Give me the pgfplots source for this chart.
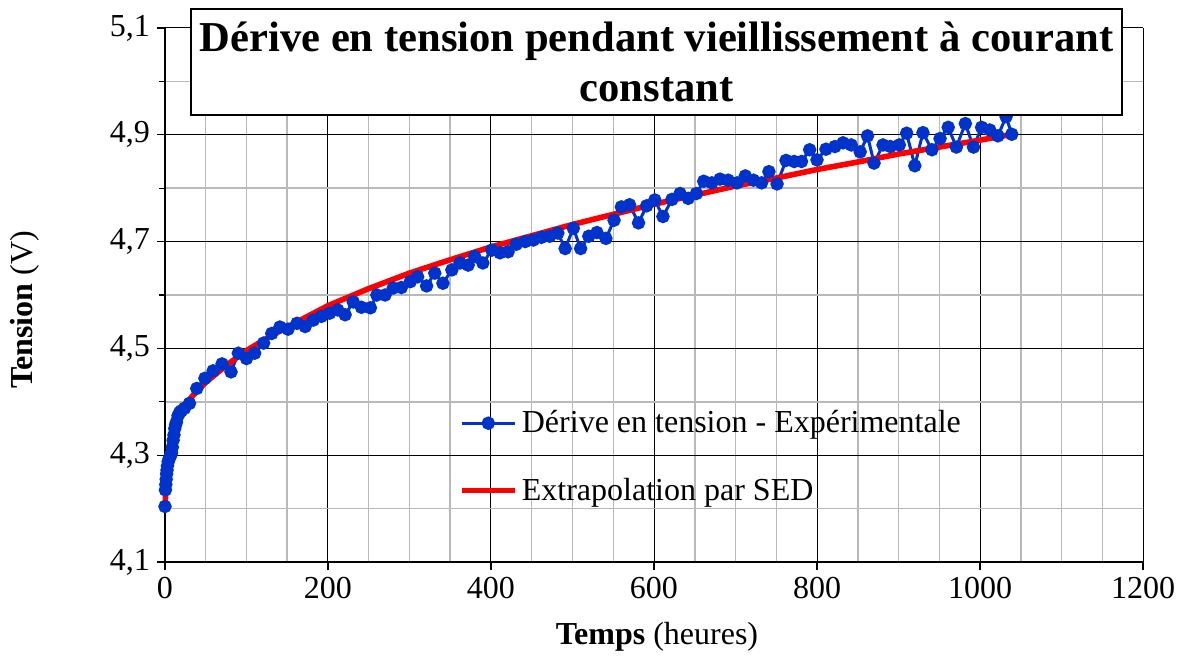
\documentclass[border=0pt]{standalone}
\usepackage{fontspec}
\setmainfont{Liberation Serif}
\usepackage{pgfplots}
\pgfplotsset{compat=1.18}

\definecolor{expblue}{RGB}{0,51,204}
\definecolor{sedred}{RGB}{255,0,0}

\begin{document}
\begin{tikzpicture}
\begin{axis}[
    scale only axis,
    width=489pt, height=267pt,
    xmin=0, xmax=1200, ymin=4.1, ymax=5.1,
    xtick={0,200,...,1200},
    ytick={4.1,4.3,4.5,4.7,4.9,5.1},
    minor x tick num=3,
    minor y tick num=1,
    grid=both,
    major grid style={black, line width=0.5pt},
    minor grid style={gray!55, line width=0.75pt},
    axis x line*=bottom, axis y line*=left,
    axis line style={-, black, line width=0.8pt},
    tick align=outside,
    major tick length=4pt, minor tick length=3pt,
    tick style={black, line width=0.6pt},
    minor x tick style={draw=none},
    clip=false,
    /pgf/number format/assume math mode=true,
    /pgf/number format/1000 sep={},
    yticklabel style={/pgf/number format/.cd, fixed, fixed zerofill, precision=1, use comma},
    tick label style={font=\fontsize{16}{19}\selectfont},
    xlabel={\textbf{Temps} (heures)},
    ylabel={\textbf{Tension} (V)},
    label style={font=\fontsize{16}{19}\selectfont},
    xlabel style={at={(axis description cs:0.503,-0.14)}, anchor=center},
    ylabel style={at={(axis description cs:-0.143,0.472)}, anchor=center, rotate=0},
    legend style={at={(0.3,0.197)}, anchor=west, draw=none, fill=none,
        font=\fontsize{16}{19}\selectfont, row sep=17pt, inner sep=0pt},
    legend cell align=left,
    legend image code/.code={\draw[mark repeat=2,mark phase=2,#1] plot coordinates {(0cm,0cm) (0.47cm,0cm) (0.94cm,0cm)};},
]
\addplot[color=expblue, line width=1.5pt, mark=*, mark size=2.6pt, mark options={fill=expblue, draw=expblue}]
coordinates {
(0,4.204) (0.5,4.235) (1,4.245) (1.5,4.255) (2,4.265) (2.5,4.272) (3,4.280)
(4,4.288) (5,4.293) (6,4.297) (7,4.300) (8,4.304) (9,4.315) (10,4.328)
(11,4.338) (12,4.350) (13,4.357) (14,4.362) (16,4.374) (18,4.380) (20,4.383)
(24,4.388) (30,4.397) (39,4.425) (49,4.444) (59,4.458) (70,4.471) (81,4.456)
(90,4.491) (100,4.481) (110,4.491) (121,4.510) (131,4.528) (141,4.540)
(151,4.536) (162,4.547) (172,4.541) (182,4.553) (192,4.560) (202,4.566)
(212,4.572) (221,4.563) (231,4.587) (241,4.577) (252,4.576) (260,4.600)
(270,4.600) (280,4.613) (290,4.614) (301,4.625) (310,4.634) (321,4.617)
(331,4.641) (341,4.622) (352,4.647) (362,4.660) (372,4.656) (380,4.672)
(390,4.660) (401,4.684) (411,4.679) (421,4.681) (431,4.695) (442,4.700)
(452,4.703) (462,4.708) (472,4.710) (482,4.716) (491,4.687) (501,4.725)
(510,4.687) (520,4.710) (530,4.717) (541,4.706) (551,4.740) (560,4.765)
(570,4.769) (581,4.735) (591,4.767) (601,4.778) (611,4.747) (622,4.779)
(632,4.790) (642,4.781) (652,4.790) (661,4.813) (671,4.810) (681,4.817)
(691,4.815) (702,4.810) (712,4.823) (722,4.815) (732,4.810) (741,4.831)
(751,4.808) (762,4.852) (772,4.850) (781,4.850) (791,4.872) (800,4.853)
(811,4.873) (822,4.878) (832,4.885) (842,4.881) (853,4.868) (862,4.898)
(870,4.847) (881,4.881) (890,4.878) (901,4.881) (910,4.903) (920,4.842)
(930,4.904) (941,4.872) (951,4.893) (961,4.914) (971,4.877) (982,4.921)
(992,4.877) (1002,4.914) (1012,4.909) (1022,4.898) (1032,4.934) (1039,4.901)
};
\addlegendentry{Dérive en tension - Expérimentale}
\addplot[color=sedred, line width=2.8pt, no marks]
coordinates {
(0,4.200) (1,4.235) (2,4.262) (3,4.282) (4,4.295) (6,4.314) (8,4.328)
(10,4.340) (13,4.358) (18,4.377) (26,4.397) (35,4.413) (49,4.435) (75,4.468)
(100,4.496) (125,4.519) (150,4.540) (175,4.560) (200,4.580) (250,4.612)
(300,4.641) (350,4.666) (400,4.690) (450,4.711) (500,4.732) (550,4.751)
(600,4.770) (650,4.787) (700,4.804) (750,4.819) (800,4.835) (850,4.849)
(900,4.864) (950,4.877) (1000,4.890) (1040,4.901)
};
\addlegendentry{Extrapolation par SED}
\end{axis}
\node[draw=black, line width=1.2pt, fill=white, minimum width=465.5pt, minimum height=53pt,
      inner sep=0pt, align=center, font=\fontsize{21.3}{25}\selectfont\bfseries]
  at (245.75pt,250pt) {Dérive en tension pendant vieillissement à courant\\constant};
\pgfresetboundingbox
\path (-82.5pt,-48.5pt) rectangle (509.5pt,281pt);
\end{tikzpicture}
\end{document}
